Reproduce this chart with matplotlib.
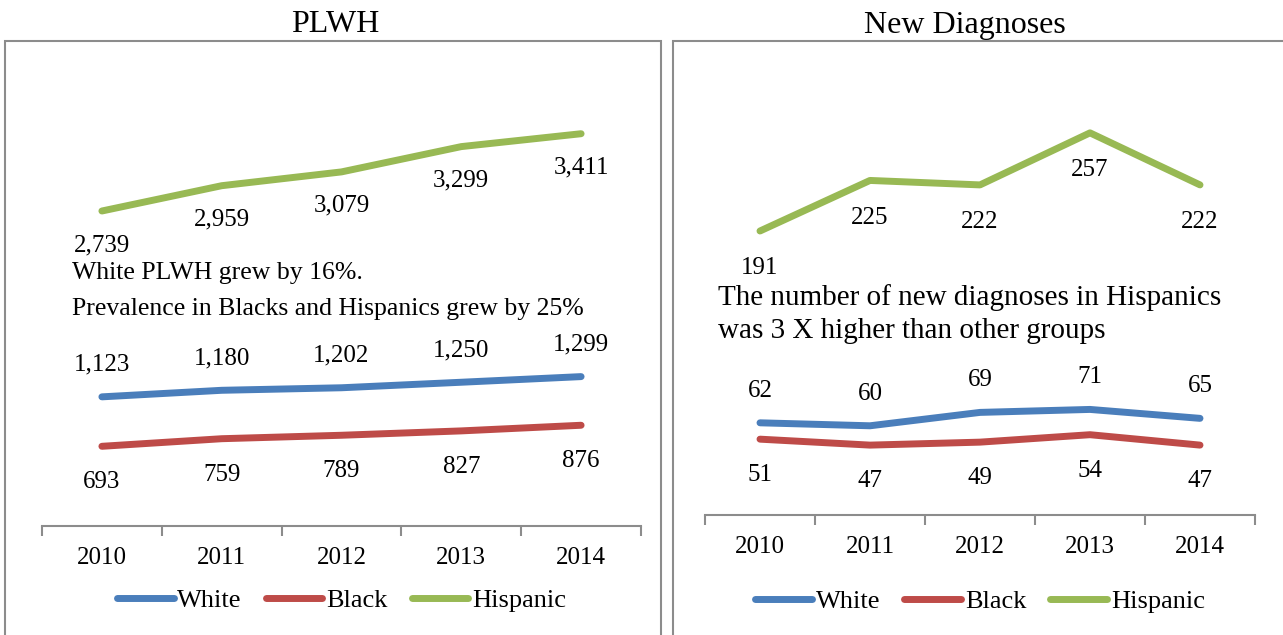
import matplotlib.pyplot as plt
from matplotlib.patches import Rectangle

years = ["2010", "2011", "2012", "2013", "2014"]
groups = ["White", "Black", "Hispanic"]

plwh_white = [1123, 1180, 1202, 1250, 1299]
plwh_black = [693, 759, 789, 827, 876]
plwh_hispanic = [2739, 2959, 3079, 3299, 3411]

dx_white = [62, 60, 69, 71, 65]
dx_black = [51, 47, 49, 54, 47]
dx_hispanic = [191, 225, 222, 257, 222]

COLORS = {"White": "#4A7EBB", "Black": "#BE4B48", "Hispanic": "#98B954"}

plt.rcParams["font.family"] = ["Liberation Serif", "DejaVu Serif"]

W, H = 1283, 635
fig = plt.figure(figsize=(W / 100, H / 100), dpi=100)


def px_rect(x0, y0, x1, y1):
    """pixel box (top-left origin) -> figure-fraction [l, b, w, h]"""
    return [x0 / W, 1 - y1 / H, (x1 - x0) / W, (y1 - y0) / H]


# panel frames
for x0, x1 in [(5, 661), (673, 1300)]:
    l, b, w, h = px_rect(x0, 41, x1, 700)
    fig.patches.append(Rectangle((l, b), w, h, transform=fig.transFigure,
                                 fill=False, edgecolor="#8c8c8c", lw=1.5,
                                 clip_on=False))

fig.text(335 / W, 1 - 25 / H, "PLWH", ha="center", va="center", fontsize=23)
fig.text(965 / W, 1 - 25 / H, "New Diagnoses", ha="center", va="center",
         fontsize=23)


def draw_panel(ax, series, ylim, fmt, legend_y, offsets):
    x = list(range(len(years)))
    for name, vals in series:
        ax.plot(x, vals, color=COLORS[name], lw=5, solid_capstyle="round",
                label=name)
        for xi, v in zip(x, vals):
            ax.annotate(fmt(v), (xi, v), xytext=(0, offsets[name]),
                        textcoords="offset points", ha="center",
                        va="center", fontsize=18)
    ax.set_xlim(-0.5, len(years) - 0.5)
    ax.set_ylim(*ylim)
    for s in ["top", "right", "left"]:
        ax.spines[s].set_visible(False)
    ax.spines["bottom"].set_color("#8c8c8c")
    ax.spines["bottom"].set_linewidth(1.5)
    ax.set_yticks([])
    ax.set_xticks(x)
    ax.set_xticklabels(years, fontsize=18)
    ax.tick_params(axis="x", which="major", length=0, pad=15)
    ax.set_xticks([i - 0.5 for i in range(len(years) + 1)], minor=True)
    ax.tick_params(axis="x", which="minor", length=7, width=1.5,
                   color="#8c8c8c", direction="out")
    ax.patch.set_alpha(0)
    bb = ax.get_position()
    fig.legend(*ax.get_legend_handles_labels(), loc="center",
               bbox_to_anchor=(bb.x0 + bb.width / 2, 1 - legend_y / H),
               bbox_transform=fig.transFigure, ncol=3, frameon=False,
               fontsize=19, handlelength=2.15, handletextpad=0.15,
               columnspacing=0.9)


ax1 = fig.add_axes(px_rect(42, 60, 641, 526))
draw_panel(ax1, [("White", plwh_white), ("Black", plwh_black),
                 ("Hispanic", plwh_hispanic)], (0, 4052),
           lambda v: f"{v:,}", 600,
           {"White": 23, "Black": -26, "Hispanic": -24.5})

ax2 = fig.add_axes(px_rect(705, 60, 1255, 515))
draw_panel(ax2, [("White", dx_white), ("Black", dx_black),
                 ("Hispanic", dx_hispanic)], (0, 306),
           lambda v: f"{v}", 601,
           {"White": 23, "Black": -26, "Hispanic": -27})

fig.text(72 / W, 1 - 273 / H, "White PLWH grew by 16%.", ha="left",
         va="center", fontsize=18.5)
fig.text(72 / W, 1 - 309 / H, "Prevalence in Blacks and Hispanics grew by 25%",
         ha="left", va="center", fontsize=18.5)
fig.text(718 / W, 1 - 298 / H, "The number of new diagnoses in Hispanics",
         ha="left", va="center", fontsize=21)
fig.text(718 / W, 1 - 331 / H, "was 3 X higher than other groups",
         ha="left", va="center", fontsize=21)

fig.savefig("out.png", dpi=100)
